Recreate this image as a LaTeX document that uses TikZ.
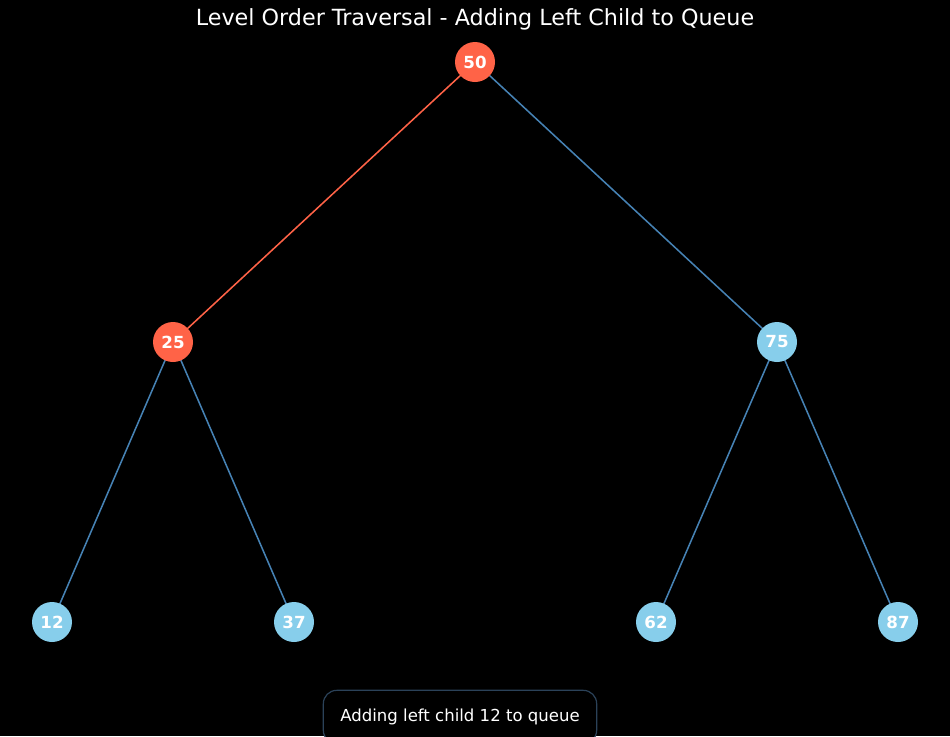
\documentclass[tikz,border=0pt]{standalone}
\usepackage{fontspec}
\setmainfont{DejaVu Sans}
\definecolor{tomatoc}{HTML}{FF6347}
\definecolor{skyc}{HTML}{87CEEB}
\definecolor{steelc}{HTML}{4682B4}
\definecolor{boxedge}{HTML}{2B4259}
\begin{document}
\begin{tikzpicture}[x=0.75pt,y=-0.75pt,
  tnode/.style={circle,minimum size=30pt,inner sep=0pt,fill=skyc,text=white,font=\fontsize{12.5}{14}\selectfont\bfseries},
  hnode/.style={tnode,fill=tomatoc},
  edge/.style={steelc,line width=1.15pt},
  hedge/.style={tomatoc,line width=1.15pt}]
\fill[black] (0,0) rectangle (950,736);
\useasboundingbox (0,0) rectangle (950,736);
\node[text=white,font=\fontsize{16.7}{19}\selectfont] (title) at (475,19) {Level Order Traversal - Adding Left Child to Queue};
\coordinate (p50) at (475,62);
\coordinate (p25) at (173,342);
\coordinate (p75) at (777,342);
\coordinate (p12) at (52,622);
\coordinate (p37) at (294,622);
\coordinate (p62) at (656,622);
\coordinate (p87) at (898,622);
\draw[hedge] (p50) -- (p25);
\draw[edge] (p50) -- (p75);
\draw[edge] (p25) -- (p12);
\draw[edge] (p25) -- (p37);
\draw[edge] (p75) -- (p62);
\draw[edge] (p75) -- (p87);
\node[hnode] (n50) at (p50) {50};
\node[hnode] (n25) at (p25) {25};
\node[tnode] (n75) at (p75) {75};
\node[tnode] (n12) at (p12) {12};
\node[tnode] (n37) at (p37) {37};
\node[tnode] (n62) at (p62) {62};
\node[tnode] (n87) at (p87) {87};
\node[draw=boxedge,line width=0.9pt,fill=black,rounded corners=10pt,text=white,
  minimum width=205pt,minimum height=40pt,font=\fontsize{12.4}{14}\selectfont,anchor=center] (status) at (460,717) {Adding left child 12 to queue};
\end{tikzpicture}
\end{document}
